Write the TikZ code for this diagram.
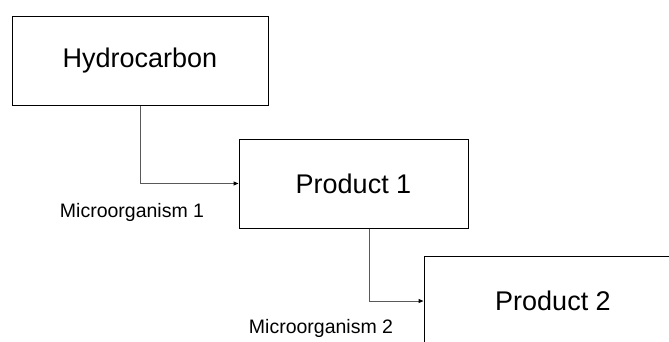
\documentclass[tikz,border=0pt]{standalone}
\usepackage{fontspec}
\setmainfont{Liberation Sans}
\usetikzlibrary{arrows.meta}
\begin{document}
\begin{tikzpicture}[x=1pt,y=-1pt,
  box/.style={draw=black,line width=1pt,fill=white,inner sep=0pt,font=\fontsize{27}{30}\selectfont},
  conn/.style={draw=black!65,line width=1pt,-{Triangle[length=5pt,width=4pt,fill=black,color=black]}},
  lbl/.style={font=\fontsize{19.5}{22}\selectfont,inner sep=0pt}]
\useasboundingbox (0,0) rectangle (669,341);
\clip (0,0) rectangle (669,341);
\fill[white] (0,0) rectangle (669,341);
\node[box,minimum width=256pt,minimum height=89pt] (hc) at (140,60.5) {Hydrocarbon};
\node[box,minimum width=229pt,minimum height=89pt] (p1) at (353.5,183.5) {Product 1};
\node[box,minimum width=258pt,minimum height=89pt] (p2) at (553,301) {Product 2};
\draw[conn] (hc.south) |- (p1.west);
\coordinate (c2) at ([xshift=15.5pt]p1.south);
\draw[conn] (c2) |- (p2.west);
\node[lbl] (m1) at (132,212) {Microorganism 1};
\node[lbl] (m2) at (321,328) {Microorganism 2};
\end{tikzpicture}
\end{document}
